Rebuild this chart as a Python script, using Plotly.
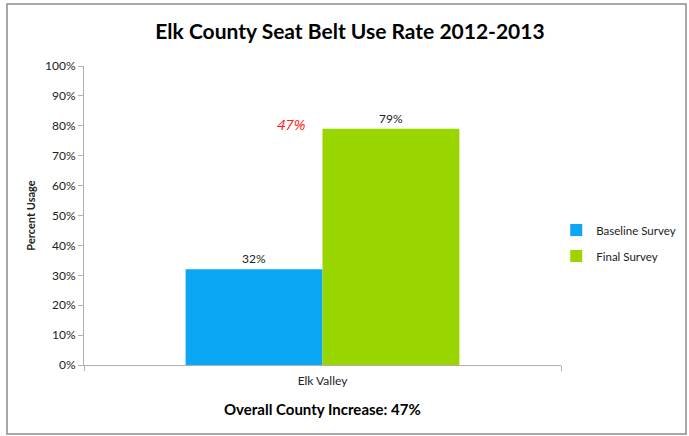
import plotly.graph_objects as go

categories = ["Elk Valley"]
baseline = [0.32]
final = [0.79]
series_names = ["Baseline Survey", "Final Survey"]
increase_label = "47%"
title = "Elk County Seat Belt Use Rate 2012-2013"
footer = "Overall County Increase: 47%"

FONT = "Lato, 'Open Sans', sans-serif"

fig = go.Figure()
fig.add_trace(go.Bar(
    x=categories, y=baseline, name=series_names[0], legendgroup="a",
    marker=dict(color="#0BA7F5", line=dict(width=0)),
    text=[f"{v:.0%}" for v in baseline], textposition="outside",
    textfont=dict(size=12, color="#222222", family=FONT),
    cliponaxis=False,
))
fig.add_trace(go.Bar(
    x=categories, y=final, name=series_names[1], legendgroup="b",
    marker=dict(color="#99D600", line=dict(width=0)),
    text=[f"{v:.0%}" for v in final], textposition="outside",
    textfont=dict(size=12, color="#222222", family=FONT),
    cliponaxis=False,
))

fig.update_layout(
    width=689, height=436,
    margin=dict(l=84, r=128, t=66, b=71, autoexpand=False),
    paper_bgcolor="white", plot_bgcolor="white",
    barmode="group", bargap=0.426, bargroupgap=0,
    font=dict(family=FONT, size=12, color="#222222"),
    title=dict(text=title, x=350 / 689, xref="container", xanchor="center",
               y=1 - 32 / 436, yref="container", yanchor="middle",
               font=dict(size=21, color="#000000", family=FONT, weight="bold")),
    showlegend=True,
    legend=dict(x=0.99, xanchor="left", y=(365 - 243) / 299, yanchor="middle",
                traceorder="grouped", tracegroupgap=7,
                font=dict(size=11.5, family=FONT, color="#222222"),
                itemsizing="constant", bgcolor="rgba(0,0,0,0)"),
    xaxis=dict(showline=True, linecolor="#b0b0b0", linewidth=1,
               ticks="outside", tickson="boundaries", ticklen=5, tickcolor="#b0b0b0",
               ticklabelstandoff=5,
               showgrid=False, tickfont=dict(size=12, family=FONT)),
    yaxis=dict(range=[0, 1], dtick=0.1, tickformat=".0%",
               showline=True, linecolor="#b0b0b0", linewidth=1,
               ticks="outside", ticklen=5, tickcolor="#b0b0b0",
               showgrid=False, zeroline=False, tickfont=dict(size=12, family=FONT),
               title=dict(text="<b>Percent Usage</b>", font=dict(size=11, family=FONT), standoff=7)),
)

fig.add_annotation(
    x=categories[0], y=final[0], xref="x", yref="y",
    text=increase_label, showarrow=False,
    xshift=-31, yshift=5,
    font=dict(size=15, color="#ff2020", family="'Open Sans', sans-serif", style="italic"),
)
fig.add_annotation(
    x=0.5, y=-44 / 299, xref="paper", yref="paper",
    text=f"<b>{footer}</b>", showarrow=False, yanchor="middle",
    font=dict(size=15, color="#000000", family=FONT),
)
fig.add_shape(type="rect", xref="paper", yref="paper",
              x0=-77 / 477, x1=602 / 477, y0=-69 / 299, y1=1 + 62 / 299,
              line=dict(color="#8c8c8c", width=1.5), layer="below")

fig.write_html("out.html", config={"displayModeBar": False},
               post_script="document.body.style.margin='0';document.body.style.overflow='hidden';")
